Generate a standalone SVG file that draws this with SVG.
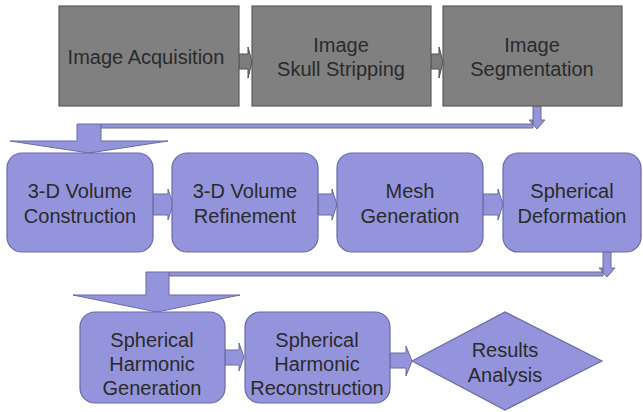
<svg xmlns="http://www.w3.org/2000/svg" width="643" height="412" viewBox="0 0 643 412">
  <style>
    .gray { fill: #808080; stroke: #5c5c5c; stroke-width: 1.2; }
    .step { fill: #9494dc; stroke: #6a6aa6; stroke-width: 1.2; }
    .garrow { fill: #7c7c7c; stroke: #505050; stroke-width: 1; }
    .parrow { fill: #9494dc; stroke: #6a6aa6; stroke-width: 1; }
    .bar { fill: #9494dc; stroke: #6c6c8c; stroke-width: 1; }
    text { font-family: "Liberation Sans", Arial, sans-serif; font-size: 20px; fill: #2a2a2a; text-anchor: middle; }
  </style>
  <rect width="643" height="412" fill="#ffffff"/>

  <!-- connectors -->
  <g id="connectors">
    <!-- top row block arrows -->
    <polygon class="garrow" points="239,54 248,54 248,47 252,62 248,78 248,69 239,69"/>
    <polygon class="garrow" points="431,54 439,54 439,47 443,62 439,78 439,69 431,69"/>
    <!-- top row to second row -->
    <polygon class="bar" points="101,124 533,124 533,106 541,106 541,120 545,120 537,129 529,120 533,120 533,124 533,128 101,128"/>
    <polygon class="parrow" points="77,124 101,124 101,141 168,141 89,153 10,141 77,141"/>
    <!-- second row block arrows -->
    <polygon class="parrow" points="153,194 168,194 168,189 173,204.5 168,220 168,215 153,215"/>
    <polygon class="parrow" points="318,194 332,194 332,189 337,204.5 332,220 332,215 318,215"/>
    <polygon class="parrow" points="483,194 498,194 498,189 503,204.5 498,220 498,215 483,215"/>
    <!-- second row to third row -->
    <polygon class="bar" points="169,272 603,272 603,252 611,252 611,268 615,268 607,277 599,268 603,268 603,272 603,276 169,276"/>
    <polygon class="parrow" points="146,272 169,272 169,295 240,295 157,312 73,295 146,295"/>
    <!-- third row block arrows -->
    <polygon class="parrow" points="225,350 239,350 239,343 244,357 239,371 239,365 225,365"/>
    <polygon class="parrow" points="390,353 406,353 406,346 412,361 406,376 406,368 390,368"/>
  </g>

  <g id="image-acquisition">
    <rect class="gray" x="59" y="6" width="180" height="100"/>
    <text x="146" y="64">Image Acquisition</text>
  </g>
  <g id="skull-stripping">
    <rect class="gray" x="252" y="6" width="179" height="100"/>
    <text x="341" y="52">Image</text>
    <text x="341" y="76">Skull Stripping</text>
  </g>
  <g id="segmentation">
    <rect class="gray" x="443" y="6" width="179" height="100"/>
    <text x="532" y="52">Image</text>
    <text x="532" y="76">Segmentation</text>
  </g>

  <g id="volume-construction">
    <rect class="step" x="7" y="153" width="146" height="99" rx="15"/>
    <text x="80" y="198">3-D Volume</text>
    <text x="80" y="223">Construction</text>
  </g>
  <g id="volume-refinement">
    <rect class="step" x="172" y="153" width="146" height="99" rx="15"/>
    <text x="245" y="198">3-D Volume</text>
    <text x="245" y="223">Refinement</text>
  </g>
  <g id="mesh-generation">
    <rect class="step" x="337" y="153" width="146" height="99" rx="15"/>
    <text x="410" y="198">Mesh</text>
    <text x="410" y="223">Generation</text>
  </g>
  <g id="spherical-deformation">
    <rect class="step" x="503" y="153" width="138" height="99" rx="15"/>
    <text x="572" y="198">Spherical</text>
    <text x="572" y="223">Deformation</text>
  </g>

  <g id="harmonic-generation">
    <rect class="step" x="80" y="312" width="145" height="91" rx="15"/>
    <text x="152" y="347">Spherical</text>
    <text x="152" y="371">Harmonic</text>
    <text x="152" y="395">Generation</text>
  </g>
  <g id="harmonic-reconstruction">
    <rect class="step" x="245" y="312" width="145" height="91" rx="15"/>
    <text x="317" y="347">Spherical</text>
    <text x="317" y="371">Harmonic</text>
    <text x="317" y="395">Reconstruction</text>
  </g>
  <g id="results-analysis">
    <polygon class="step" points="412,361 505,312 602,361 505,410"/>
    <text x="505" y="357">Results</text>
    <text x="505" y="382">Analysis</text>
  </g>
</svg>
